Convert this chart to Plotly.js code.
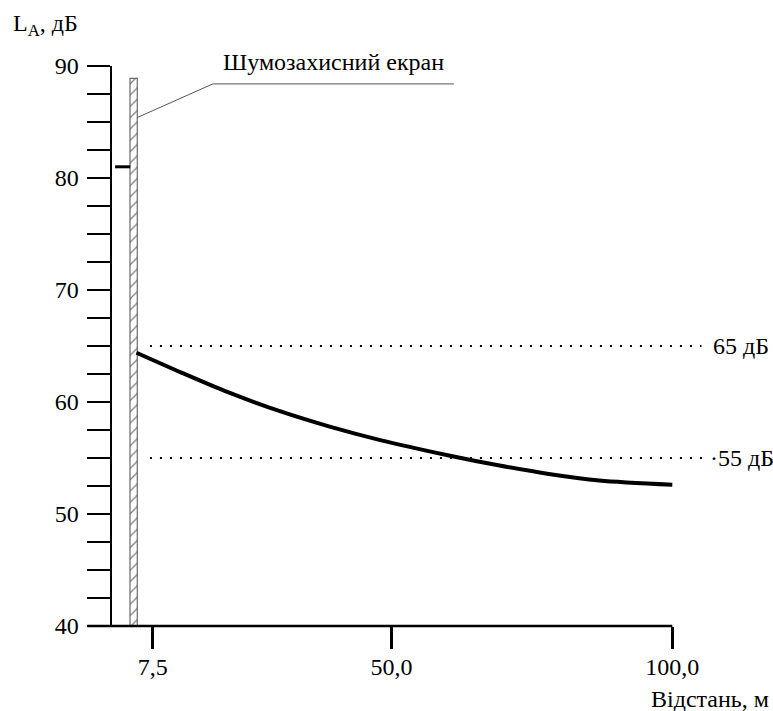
<!DOCTYPE html>
<html>
<head>
<meta charset="utf-8">
<script src="https://cdn.plot.ly/plotly-3.0.1.min.js"></script>
<style>
  html, body { margin: 0; padding: 0; background: #fff; }
  #chart { width: 773px; height: 711px; }
</style>
</head>
<body>
<div id="chart"></div>
<script>
// ---- data ----
const distance = [4.6, 12.5, 21, 30, 39, 48, 60, 69, 78, 87, 100];
const levelLA  = [64.4, 62.65, 60.85, 59.2, 57.8, 56.6, 55.25, 54.35, 53.58, 53.0, 52.62];

const sourceX = [0.8, 3.5];
const sourceLevel = [81, 81];

const screenCenter = [4.1];
const screenWidth = [1.3];
const screenTop = [88.9];
const screenBase = [40];

const limitLevels = [65, 55];
const limitLabels = ['65 дБ', '·55 дБ'];
const limitStartX = [7.0, 7.0];
const limitEndX = [105.2, 105.8];

const leaderX = [4.75, 18.2, 61.1];
const leaderY = [85.4, 88.4, 88.4];

const xTickVals = [7.5, 50, 100];
const xTickText = ['7,5', '50,0', '100,0'];
const yTickVals = [40, 50, 60, 70, 80, 90];
const yTickText = ['40', '50', '60', '70', '80', '90'];

const screenLabel = 'Шумозахисний екран';
const yTitle = 'L<sub>A</sub>, дБ';
const xTitle = 'Відстань, м';

// ---- layout geometry ----
const W = 773, H = 711;
const mL = 80, mR = 23, mT = 66, mB = 84.5;
const xRange = [-5.45, 113.83];
const yRange = [40, 90];
const plotW = W - mL - mR, plotH = H - mT - mB;
const px2pX = px => (px - mL) / plotW;
const px2pY = py => (H - mB - py) / plotH;
const d2pX = d => (d - xRange[0]) / (xRange[1] - xRange[0]);

const FONT = "Liberation Serif";
const FS = 24;

const traces = [
  {
    type: 'bar', x: screenCenter, y: screenTop.map((t, i) => t - screenBase[i]),
    base: screenBase, width: screenWidth,
    marker: { color: '#ffffff', line: { color: '#6a6a6a', width: 1.2 },
      pattern: { shape: '/', fgcolor: '#7a7a7a', bgcolor: '#ffffff', size: 8, solidity: 0.15 } },
    hoverinfo: 'skip', showlegend: false
  },
  {
    type: 'scatter', mode: 'lines', x: sourceX, y: sourceLevel,
    line: { color: '#000', width: 3 }, hoverinfo: 'skip', showlegend: false
  },
  {
    type: 'scatter', mode: 'lines', x: leaderX, y: leaderY,
    line: { color: '#555', width: 1 }, hoverinfo: 'skip', showlegend: false
  }
];
limitLevels.forEach((lv, i) => {
  traces.push({
    type: 'scatter', mode: 'lines', x: [limitStartX[i], limitEndX[i]], y: [lv, lv],
    line: { color: '#000', width: 2.2, dash: '2px,8px' }, hoverinfo: 'skip', showlegend: false
  });
});
traces.push({
  type: 'scatter', mode: 'lines', x: distance, y: levelLA,
  line: { color: '#000', width: 4, shape: 'spline', smoothing: 0.8 },
  hoverinfo: 'skip', showlegend: false
});

const annotations = [
  { text: screenLabel, xref: 'paper', yref: 'paper', x: px2pX(221), y: px2pY(62),
    xanchor: 'left', yanchor: 'middle', showarrow: false, font: { family: FONT, size: FS, color: '#000' } },
  { text: yTitle, xref: 'paper', yref: 'paper', x: px2pX(11), y: px2pY(25),
    xanchor: 'left', yanchor: 'middle', showarrow: false, font: { family: FONT, size: FS, color: '#000' } },
  { text: xTitle, xref: 'paper', yref: 'paper', x: px2pX(649), y: px2pY(700),
    xanchor: 'left', yanchor: 'middle', showarrow: false, font: { family: FONT, size: FS, color: '#000' } }
];
limitLevels.forEach((lv, i) => {
  annotations.push({ text: limitLabels[i], xref: 'paper', yref: 'y', x: px2pX(i === 0 ? 711 : 708), y: lv,
    xanchor: 'left', yanchor: 'middle', showarrow: false, font: { family: FONT, size: FS, color: '#000' } });
});

const layout = {
  width: W, height: H,
  margin: { l: mL, r: mR, t: mT, b: mB, pad: 0 },
  paper_bgcolor: '#fff', plot_bgcolor: '#fff',
  font: { family: FONT, size: FS, color: '#000' },
  showlegend: false,
  xaxis: {
    range: xRange, tickmode: 'array', tickvals: xTickVals, ticktext: xTickText,
    ticks: 'outside', ticklen: 22, tickwidth: 2.5, tickcolor: '#000', ticklabelstandoff: -3,
    showline: false, showgrid: false, zeroline: false,
    tickfont: { family: FONT, size: FS, color: '#000' }, fixedrange: true
  },
  yaxis: {
    range: yRange, anchor: 'free', position: d2pX(0),
    tickmode: 'array', tickvals: yTickVals, ticktext: yTickText,
    ticks: 'outside', ticklen: 23, tickwidth: 2.5, tickcolor: '#000', ticklabelstandoff: 3,
    minor: { tickmode: 'linear', tick0: 40, dtick: 2.5, ticks: 'outside', ticklen: 23, tickwidth: 2.5, tickcolor: '#000', showgrid: false },
    showline: true, linewidth: 2.5, linecolor: '#000',
    showgrid: false, zeroline: false,
    tickfont: { family: FONT, size: FS, color: '#000' }, fixedrange: true
  },
  shapes: [
    { type: 'line', xref: 'paper', yref: 'paper', x0: d2pX(-4.15), x1: d2pX(100), y0: 0, y1: 0,
      line: { color: '#000', width: 2.5 }, layer: 'above' }
  ],
  annotations: annotations
};

Plotly.newPlot('chart', traces, layout, { displayModeBar: false, staticPlot: true });
</script>
</body>
</html>
